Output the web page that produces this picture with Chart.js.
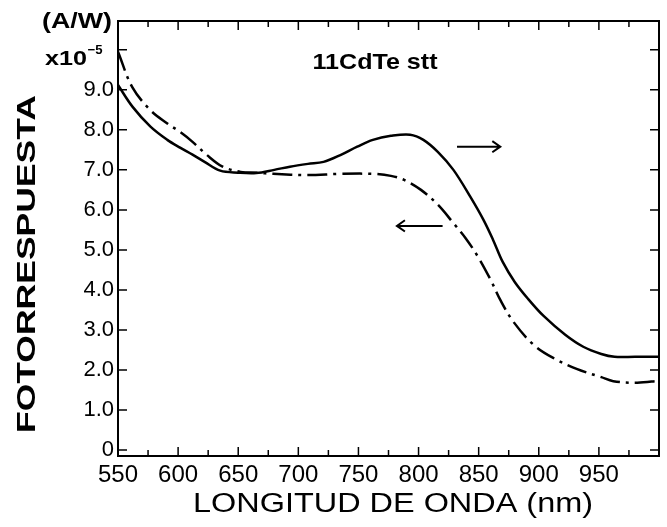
<!DOCTYPE html>
<html>
<head>
<meta charset="utf-8">
<script src="https://cdn.jsdelivr.net/npm/chart.js@4"></script>
<style>
  body { margin: 0; background: #fff; }
  canvas { display: block; }
</style>
</head>
<body>
<canvas id="chart" width="667" height="527"></canvas>
<script>
// wavelength (nm) and photoresponse (x1e-5 A/W)
const solidNm = [550, 562, 577, 591, 602, 612, 622, 635, 650, 665, 680, 693, 708, 721, 735, 749, 762, 777, 793, 804, 816, 829, 843, 854, 862, 870, 880, 891, 904, 922, 937, 952, 963, 980, 1000];
const solidVal = [9.12, 8.58, 8.08, 7.75, 7.55, 7.38, 7.2, 6.98, 6.93, 6.92, 7.0, 7.08, 7.15, 7.2, 7.37, 7.58, 7.75, 7.85, 7.88, 7.75, 7.45, 7.0, 6.33, 5.75, 5.25, 4.7, 4.2, 3.78, 3.35, 2.88, 2.58, 2.4, 2.33, 2.33, 2.33];

const dashNm = [550, 562, 577, 591, 602, 612, 624, 637, 652, 666, 679, 708, 735, 762, 777, 788, 802, 816, 829, 839, 849, 860, 868, 879, 896, 912, 932, 952, 962, 982, 1000];
const dashVal = [9.95, 9.06, 8.49, 8.16, 7.94, 7.7, 7.37, 7.08, 6.95, 6.93, 6.9, 6.87, 6.9, 6.9, 6.85, 6.75, 6.5, 6.13, 5.67, 5.3, 4.85, 4.25, 3.75, 3.2, 2.62, 2.3, 2.02, 1.82, 1.72, 1.68, 1.73];

const xTickValues = [550, 575, 600, 625, 650, 675, 700, 725, 750, 775, 800, 825, 850, 875, 900, 925, 950, 975, 1000];
const xTickLabels = ["550", "", "600", "", "650", "", "700", "", "750", "", "800", "", "850", "", "900", "", "950", "", ""];
const yTickValues = [0, 1, 2, 3, 4, 5, 6, 7, 8, 9, 10];
const yTickLabels = ["0", "1.0", "2.0", "3.0", "4.0", "5.0", "6.0", "7.0", "8.0", "9.0", ""];

function pairs(xs, ys) {
    return xs.map((x, i) => ({ x: x, y: ys[i] }));
}

function fitText(ctx, text, cx, cy, width, font, rotate) {
    ctx.save();
    ctx.translate(cx, cy);
    if (rotate) ctx.rotate(-Math.PI / 2);
    ctx.font = font;
    const w = ctx.measureText(text).width;
    ctx.scale(width / w, 1);
    ctx.textAlign = "center";
    ctx.textBaseline = "middle";
    ctx.fillStyle = "#000";
    ctx.fillText(text, 0, 0);
    ctx.restore();
}

function arrow(ctx, x1, x2, y, head) {
    ctx.beginPath();
    ctx.moveTo(x1, y);
    ctx.lineTo(x2, y);
    const dir = x2 > x1 ? -1 : 1;
    ctx.moveTo(x2 + dir * head, y - head * 0.7);
    ctx.lineTo(x2, y);
    ctx.lineTo(x2 + dir * head, y + head * 0.7);
    ctx.stroke();
}

// frame, inward ticks, titles and annotations
const decorations = {
    id: "decorations",
    afterDraw(chart) {
        const ctx = chart.ctx;
        const a = chart.chartArea;
        const xs = chart.scales.x;
        const ys = chart.scales.y;
        ctx.save();
        ctx.strokeStyle = "#000";
        ctx.lineWidth = 2;
        ctx.strokeRect(a.left, a.top, a.right - a.left, a.bottom - a.top);

        ctx.lineWidth = 1.5;
        ctx.beginPath();
        xTickValues.forEach(v => {
            if (v === 550 || v === 1000) return;
            const px = xs.getPixelForValue(v);
            const len = v % 50 === 0 ? 9 : 6;
            ctx.moveTo(px, a.bottom);
            ctx.lineTo(px, a.bottom - len);
            ctx.moveTo(px, a.top);
            ctx.lineTo(px, a.top + len);
        });
        yTickValues.forEach(v => {
            const py = ys.getPixelForValue(v);
            ctx.moveTo(a.left, py);
            ctx.lineTo(a.left + 9, py);
            ctx.moveTo(a.right, py);
            ctx.lineTo(a.right - 9, py);
        });
        ctx.stroke();

        // axis titles
        fitText(ctx, "FOTORRESPUESTA", 28, 264, 338, "bold 25px 'Liberation Sans'", true);
        fitText(ctx, "LONGITUD DE ONDA (nm)", 393, 505, 400, "27px 'Liberation Sans'", false);
        fitText(ctx, "(A/W)", 77, 22, 70, "bold 22px 'Liberation Sans'", false);
        fitText(ctx, "x10", 66, 59, 42, "bold 21px 'Liberation Sans'", false);
        fitText(ctx, "\u22125", 95, 50, 15, "bold 13px 'Liberation Sans'", false);
        fitText(ctx, "11CdTe stt", 375, 63, 125, "bold 22px 'Liberation Sans'", false);

        // direction arrows
        ctx.lineWidth = 2;
        arrow(ctx, xs.getPixelForValue(832), xs.getPixelForValue(868), ys.getPixelForValue(7.58), 8);
        arrow(ctx, xs.getPixelForValue(820), xs.getPixelForValue(782), ys.getPixelForValue(5.6), 8);
        ctx.restore();
    }
};

const chartCanvas = document.getElementById("chart").getContext("2d");

new Chart(chartCanvas, {
    type: "line",
    data: {
        datasets: [{
            data: pairs(solidNm, solidVal),
            borderColor: "#000",
            borderWidth: 2.5,
            pointRadius: 0,
            tension: 0.35
        }, {
            data: pairs(dashNm, dashVal),
            borderColor: "#000",
            borderWidth: 2.5,
            borderDash: [20, 6, 3, 6],
            pointRadius: 0,
            tension: 0.35
        }]
    },
    options: {
        responsive: false,
        animation: false,
        devicePixelRatio: 1,
        layout: { padding: { top: 21, right: 8, left: 0, bottom: 0 } },
        plugins: { legend: { display: false }, tooltip: { enabled: false } },
        scales: {
            x: {
                type: "linear",
                min: 550,
                max: 1000,
                grid: { display: false, drawTicks: false },
                border: { display: false },
                afterBuildTicks: s => { s.ticks = xTickValues.map(v => ({ value: v })); },
                afterFit: s => { s.height = 71; },
                ticks: {
                    autoSkip: false,
                    maxRotation: 0,
                    padding: 5,
                    color: "#000",
                    font: { family: "Liberation Sans", size: 24 },
                    callback: v => xTickLabels[xTickValues.indexOf(v)]
                }
            },
            y: {
                min: -0.15,
                max: 10.72,
                grid: { display: false, drawTicks: false },
                border: { display: false },
                afterBuildTicks: s => { s.ticks = yTickValues.map(v => ({ value: v })); },
                afterFit: s => { s.width = 118; },
                ticks: {
                    autoSkip: false,
                    padding: 4,
                    color: "#000",
                    font: { family: "Liberation Sans", size: 22 },
                    callback: v => yTickLabels[yTickValues.indexOf(v)]
                }
            }
        }
    },
    plugins: [decorations]
});
</script>
</body>
</html>
